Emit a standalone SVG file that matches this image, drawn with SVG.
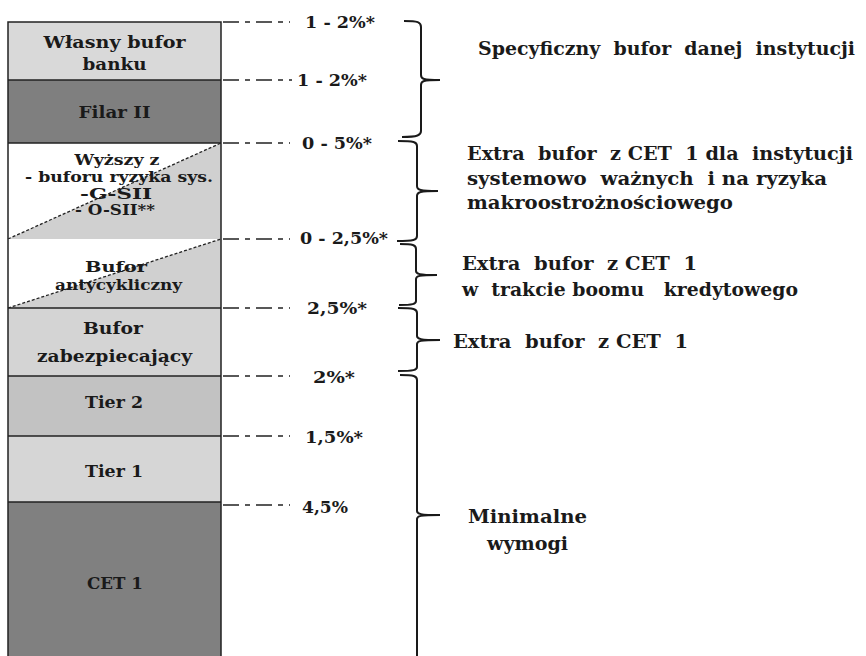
<svg xmlns="http://www.w3.org/2000/svg" width="866" height="656" viewBox="0 0 866 656">
<style>
.t{font-family:"DejaVu Serif","Liberation Serif",serif;font-weight:bold;fill:#1a1a1a;white-space:pre}
.c{font-size:16px;text-anchor:middle}
.s{font-size:14px}
.p{font-size:16px}
.r{font-size:19px}
.ln{stroke:#222;stroke-width:1.5;fill:none}
.dash{stroke:#222;stroke-width:1.5;stroke-dasharray:16 6 5 6;fill:none}
.diag{stroke:#222;stroke-width:1.3;stroke-dasharray:3 2;fill:none}
.br{stroke:#1a1a1a;stroke-width:2;fill:none}
</style>
<rect width="866" height="656" fill="#fff"/>
<g id="col">
<g id="wlasny"><rect x="8" y="22" width="213" height="58" fill="#d9d9d9"/>
<text class="t c" x="114.5" y="48" textLength="142" lengthAdjust="spacingAndGlyphs">Własny bufor</text>
<text class="t c" x="114.5" y="70" textLength="64" lengthAdjust="spacingAndGlyphs">banku</text></g>
<g id="filar"><rect x="8" y="80" width="213" height="63" fill="#7f7f7f"/>
<text class="t c" x="114.5" y="118" textLength="72" lengthAdjust="spacingAndGlyphs">Filar II</text></g>
<g id="wyzszy"><rect x="8" y="143" width="213" height="96" fill="#fff"/>
<polygon points="8,239 221,143 221,239" fill="#d0d0d0"/>
<line class="diag" x1="8" y1="239" x2="221" y2="143"/>
<text class="t c s" x="117" y="165" textLength="85" lengthAdjust="spacingAndGlyphs">Wyższy z</text>
<text class="t c s" x="119" y="182" textLength="188" lengthAdjust="spacingAndGlyphs">- buforu ryzyka sys.</text>
<text class="t c s" x="116" y="199" textLength="72" lengthAdjust="spacingAndGlyphs">-G-SII</text>
<text class="t c s" x="115" y="215" textLength="80" lengthAdjust="spacingAndGlyphs">- O-SII**</text></g>
<g id="antycykliczny"><rect x="8" y="239" width="213" height="69" fill="#fff"/>
<polygon points="8,308 221,239 221,308" fill="#d0d0d0"/>
<line class="diag" x1="8" y1="308" x2="221" y2="239"/>
<text class="t c s" x="116" y="272" textLength="62" lengthAdjust="spacingAndGlyphs">Bufor</text>
<text class="t c s" x="118.5" y="290" textLength="127" lengthAdjust="spacingAndGlyphs">antycykliczny</text></g>
<g id="zabezpieczajacy"><rect x="8" y="308" width="213" height="68" fill="#d4d4d4"/>
<text class="t c" x="113" y="334" textLength="60" lengthAdjust="spacingAndGlyphs">Bufor</text>
<text class="t c" x="114.5" y="362" textLength="155" lengthAdjust="spacingAndGlyphs">zabezpiecający</text></g>
<g id="tier2"><rect x="8" y="376" width="213" height="60" fill="#c2c2c2"/>
<text class="t c" x="114" y="408" textLength="58" lengthAdjust="spacingAndGlyphs">Tier 2</text></g>
<g id="tier1"><rect x="8" y="436" width="213" height="66" fill="#d6d6d6"/>
<text class="t c" x="114" y="477" textLength="58" lengthAdjust="spacingAndGlyphs">Tier 1</text></g>
<g id="cet1"><rect x="8" y="502" width="213" height="160" fill="#808080"/>
<text class="t c" x="115" y="589" textLength="56" lengthAdjust="spacingAndGlyphs">CET 1</text></g>
<path class="ln" d="M8,80 H221 M8,143 H221 M8,308 H221 M8,376 H221 M8,436 H221 M8,502 H221"/>
<path class="ln" d="M8,660 V22 H221 V660"/>
</g>
<g id="connectors">
<path class="dash" d="M223,22 H290 M223,80 H292 M223,143 H290 M223,239 H290 M223,308 H290 M223,376 H290 M223,436 H290 M223,505 H290"/>
<path class="br" d="M404,21 C418,21 421,22 421,27 L421,75 C421,79 423,80 440,80 M440,80 C423,80 421,81 421,85 L421,131 C421,135 418,137 402,137"/>
<path class="br" d="M398,141 C414,141 417,142 417,146 L417,186 C417,190 420,191 438,191 M438,191 C420,191 417,192 417,196 L417,236 C417,240 414,241 397,241"/>
<path class="br" d="M400,244 C413,244 416,245 416,249 L416,271 C416,274 419,275 437,275 M437,275 C419,275 416,276 416,279 L416,301 C416,304 413,305 399,305"/>
<path class="br" d="M398,308 C414,308 417,309 417,313 L417,336 C417,339 420,340 440,340 M440,340 C420,340 417,341 417,344 L417,367 C417,370 414,371 398,371"/>
<path class="br" d="M400,375 C414,375 417,376 417,380 L417,511 C417,514 420,515 440,515 M440,515 C420,515 417,516 417,519 L417,660"/>
</g>
<g id="percents">
<text class="t p" x="305" y="28" textLength="70" lengthAdjust="spacingAndGlyphs">1 - 2%*</text>
<text class="t p" x="297" y="86" textLength="70" lengthAdjust="spacingAndGlyphs">1 - 2%*</text>
<text class="t p" x="302" y="149" textLength="70" lengthAdjust="spacingAndGlyphs">0 - 5%*</text>
<text class="t p" x="300" y="244" textLength="88" lengthAdjust="spacingAndGlyphs">0 - 2,5%*</text>
<text class="t p" x="307" y="314" textLength="60" lengthAdjust="spacingAndGlyphs">2,5%*</text>
<text class="t p" x="313" y="383" textLength="42" lengthAdjust="spacingAndGlyphs">2%*</text>
<text class="t p" x="305" y="443" textLength="58" lengthAdjust="spacingAndGlyphs">1,5%*</text>
<text class="t p" x="302" y="513" textLength="46" lengthAdjust="spacingAndGlyphs">4,5%</text>
</g>
<g id="labels">
<text class="t r" x="478" y="55" textLength="377" lengthAdjust="spacingAndGlyphs">Specyficzny  bufor  danej  instytucji</text>
<text class="t r" x="467" y="160" textLength="386" lengthAdjust="spacingAndGlyphs">Extra  bufor  z CET  1 dla  instytucji</text>
<text class="t r" x="467" y="185" textLength="360" lengthAdjust="spacingAndGlyphs">systemowo  ważnych  i na ryzyka</text>
<text class="t r" x="467" y="209" textLength="266" lengthAdjust="spacingAndGlyphs">makroostrożnościowego</text>
<text class="t r" x="462" y="270" textLength="235" lengthAdjust="spacingAndGlyphs">Extra  bufor  z CET  1</text>
<text class="t r" x="462" y="296" textLength="336" lengthAdjust="spacingAndGlyphs">w  trakcie boomu   kredytowego</text>
<text class="t r" x="453" y="348" textLength="235" lengthAdjust="spacingAndGlyphs">Extra  bufor  z CET  1</text>
<text class="t r" x="468" y="523" textLength="119" lengthAdjust="spacingAndGlyphs">Minimalne</text>
<text class="t r" x="487" y="550" textLength="81" lengthAdjust="spacingAndGlyphs">wymogi</text>
</g>
</svg>
